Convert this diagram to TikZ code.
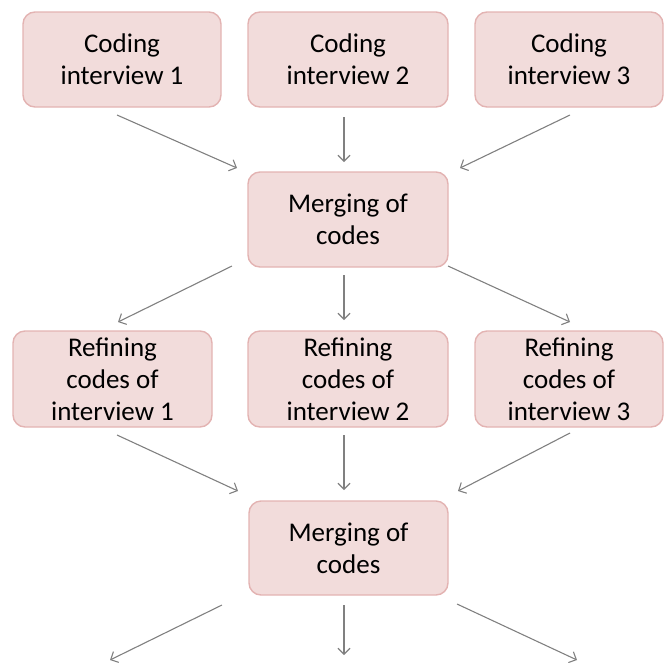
\documentclass[tikz,border=0pt]{standalone}
\usepackage{fontspec}
\setmainfont{Carlito}
\usetikzlibrary{arrows.meta}
\definecolor{boxfill}{HTML}{F2DCDB}
\definecolor{boxline}{HTML}{E3B3B2}
\definecolor{arrgray}{HTML}{808080}
\begin{document}
\begin{tikzpicture}[x=1pt,y=-1pt,
  box/.style={rectangle, rounded corners=12pt, fill=boxfill, draw=boxline, line width=1.4pt,
    inner sep=0pt, align=center, minimum height=95pt,
    font=\fontsize{27}{32}\selectfont},
  arr/.style={draw=arrgray, line width=1.1pt, -{Straight Barb[length=6pt,width=12pt]}}]
\useasboundingbox (0,0) rectangle (664,662);
% top row
\node[box, minimum width=198pt] (c1) at (122,59.5) {Coding\\interview 1};
\node[box, minimum width=200pt] (c2) at (348,59.5) {Coding\\interview 2};
\node[box, minimum width=188pt] (c3) at (569,59.5) {Coding\\interview 3};
% merge 1
\node[box, minimum width=200pt] (m1) at (348,219.5) {Merging of\\codes};
% refining row
\node[box, minimum width=199pt, minimum height=96pt] (r1) at (112.5,379) {Refining\\codes of\\interview 1};
\node[box, minimum width=200pt, minimum height=96pt] (r2) at (348,379) {Refining\\codes of\\interview 2};
\node[box, minimum width=188pt, minimum height=96pt] (r3) at (569,379) {Refining\\codes of\\interview 3};
% merge 2
\node[box, minimum width=199pt, minimum height=94pt] (m2) at (348.5,548) {Merging of\\codes};
% free ends
\coordinate (o1) at (110,660);
\coordinate (o2) at (344,655);
\coordinate (o3) at (577,660);
% arrows row 1
\draw[arr] ([shift={(-5,55.5)}]c1.center) -- ([shift={(-111,-51.5)}]m1.center);
\draw[arr] ([shift={(-4,57.5)}]c2.center) -- ([shift={(-4,-57.5)}]m1.center);
\draw[arr] ([shift={(1,55.5)}]c3.center) -- ([shift={(112,-51.5)}]m1.center);
% arrows row 2
\draw[arr] ([shift={(-116,46.5)}]m1.center) -- ([shift={(5.5,-57)}]r1.center);
\draw[arr] ([shift={(-4,55.5)}]m1.center) -- ([shift={(-4,-59)}]r2.center);
\draw[arr] ([shift={(100,46.5)}]m1.center) -- ([shift={(1,-57)}]r3.center);
% arrows row 3
\draw[arr] ([shift={(4.5,56)}]r1.center) -- ([shift={(-110.5,-57)}]m2.center);
\draw[arr] ([shift={(-4,56)}]r2.center) -- ([shift={(-4.5,-58)}]m2.center);
\draw[arr] ([shift={(1,54)}]r3.center) -- ([shift={(109.5,-57)}]m2.center);
% arrows row 4
\draw[arr] ([shift={(-126.5,57)}]m2.center) -- (o1);
\draw[arr] ([shift={(-4.5,57)}]m2.center) -- (o2);
\draw[arr] ([shift={(108.5,56)}]m2.center) -- (o3);
\end{tikzpicture}
\end{document}
